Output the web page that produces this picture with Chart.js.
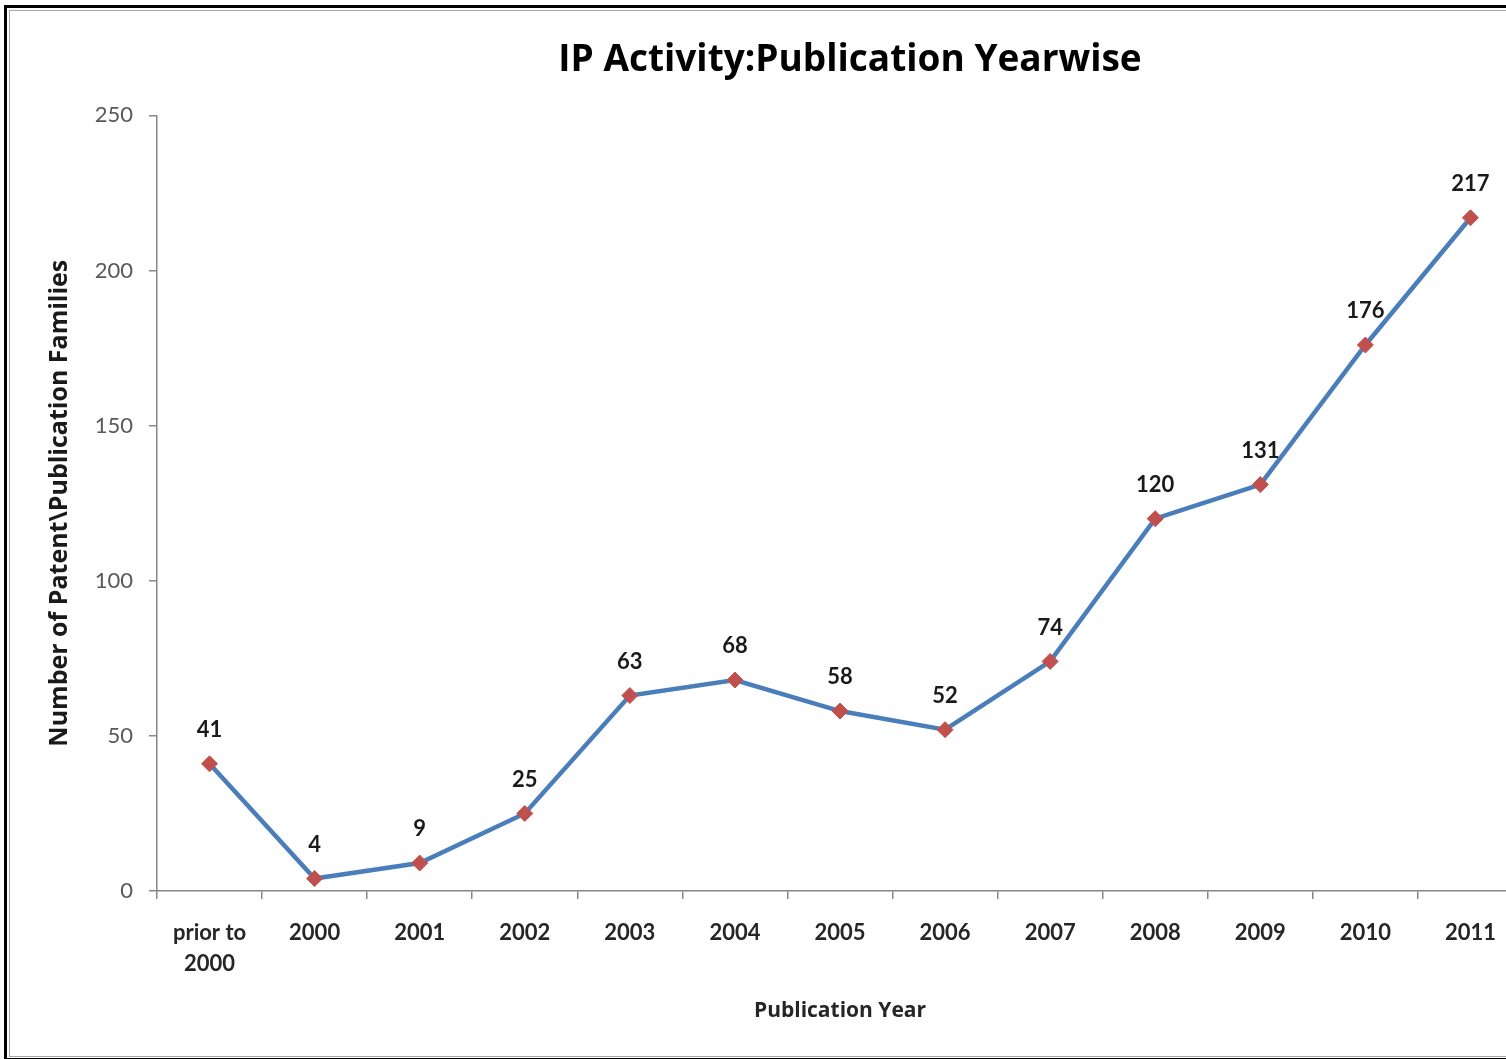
<!DOCTYPE html>
<html>
<head>
<meta charset="utf-8">
<script src="https://cdn.jsdelivr.net/npm/chart.js@4"></script>
<style>
  html, body { margin: 0; padding: 0; background: #fff; overflow: hidden; width: 1506px; height: 1059px; }
  .frame { position: absolute; left: 4px; top: 5px; width: 1600px; height: 1056px; border: 3px solid #000; box-sizing: border-box; }
  .inner { position: absolute; left: 9px; top: 10px; width: 1600px; height: 1047px; border: 1px solid #a6a6a6; box-sizing: border-box; }
  #line_chart { position: absolute; left: 10px; top: 11px; }
</style>
</head>
<body>
<div class="frame"></div>
<div class="inner"></div>
<canvas id="line_chart" width="1560" height="1045"></canvas>
<script>
const ctx = document.querySelector('#line_chart')

const years = [["prior to", "2000"], "2000", "2001", "2002", "2003", "2004", "2005", "2006", "2007", "2008", "2009", "2010", "2011"];
const families = [41, 4, 9, 25, 63, 68, 58, 52, 74, 120, 131, 176, 217];
const yTicks = [0, 50, 100, 150, 200, 250];

// labels above each point, placed from the element positions
const pointLabels = {
    id: 'pointLabels',
    afterDatasetsDraw(chart) {
        const c = chart.ctx
        const meta = chart.getDatasetMeta(0)
        c.save()
        c.font = 'bold 22px Lato'
        c.fillStyle = '#1a1a1a'
        c.textAlign = 'center'
        c.textBaseline = 'middle'
        meta.data.forEach((pt, i) => {
            c.fillText(families[i], pt.x, pt.y - 34)
        })
        c.restore()
    }
}

// excel centres the title a bit right of the plot area
const titleShift = {
    id: 'titleShift',
    afterLayout(chart) {
        chart.titleBlock.left += 10
        chart.titleBlock.right += 10
    }
}

const data = {
    labels: years,
    datasets: [
        {
            data: families,
            borderColor: '#4A7EBB',
            borderWidth: 4.5,
            backgroundColor: '#C0504D',
            pointStyle: 'rectRot',
            pointRadius: 8,
            pointBorderColor: '#C0504D',
            pointBorderWidth: 1,
            tension: 0
        }
    ]
};

const options = {
    responsive: false,
    animation: false,
    layout: {
        padding: { left: 20, right: 47, top: 0, bottom: 0 }
    },
    plugins: {
        legend: false,
        tooltip: { enabled: false },
        title: {
            display: true,
            fullSize: false,
            text: 'IP Activity:Publication Yearwise',
            color: '#000',
            font: { family: 'Open Sans', size: 37, weight: 'bold', lineHeight: 1.2 },
            padding: { top: 27, bottom: 33 }
        }
    },
    scales: {
        x: {
            offset: true,
            afterFit: s => { s.height = 165 },
            grid: {
                offset: true,
                drawOnChartArea: false,
                tickLength: 8,
                color: '#868686',
                lineWidth: 1.5
            },
            border: { display: true, color: '#868686', width: 1.5 },
            ticks: {
                color: '#262626',
                padding: 19,
                maxRotation: 0,
                autoSkip: false,
                font: { family: 'Lato', size: 22, weight: 'bold', lineHeight: 1.4 }
            },
            title: {
                display: true,
                text: 'Publication Year',
                color: '#262626',
                font: { family: 'Open Sans', size: 21, weight: 'bold', lineHeight: 1.2 },
                padding: { top: 0, bottom: 32 }
            }
        },
        y: {
            min: 0,
            max: 250,
            afterFit: s => { s.width = 127 },
            afterBuildTicks: s => { s.ticks = yTicks.map(v => ({ value: v })) },
            grid: {
                drawOnChartArea: false,
                tickLength: 8,
                color: '#868686',
                lineWidth: 1.5
            },
            border: { display: true, color: '#868686', width: 1.5 },
            ticks: {
                color: '#595959',
                padding: 16,
                font: { family: 'Lato', size: 22 }
            },
            title: {
                display: true,
                text: 'Number of Patent\\Publication Families',
                color: '#1a1a1a',
                font: { family: 'Open Sans', size: 25, weight: 'bold', lineHeight: 1.2 },
                padding: { top: 15, bottom: 0 }
            }
        }
    }
}

new Chart(ctx, {
    type: 'line',
    data: data,
    options: options,
    plugins: [pointLabels, titleShift]
})
</script>
</body>
</html>
